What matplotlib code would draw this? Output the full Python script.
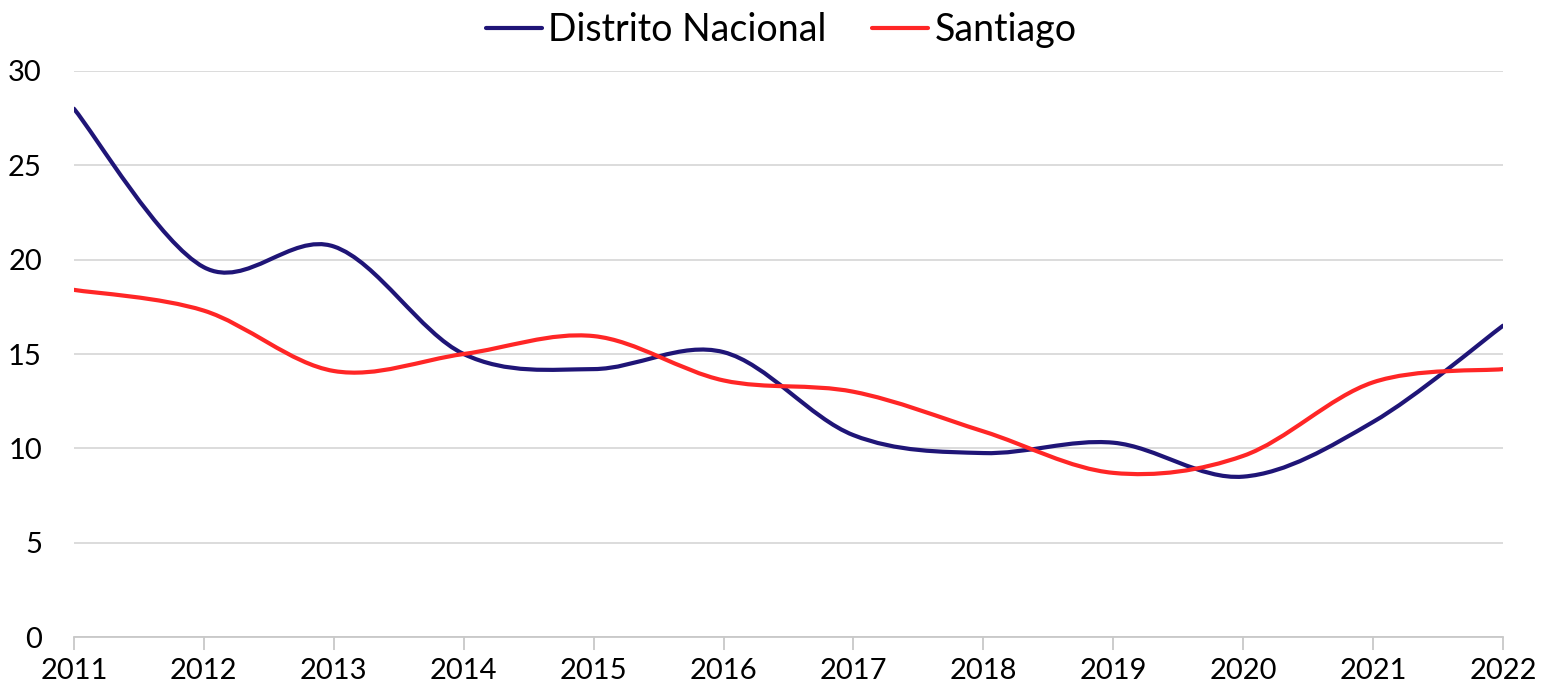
import numpy as np
import matplotlib
matplotlib.use("Agg")
import matplotlib.pyplot as plt
from matplotlib.path import Path
from matplotlib.patches import PathPatch
from matplotlib.lines import Line2D

plt.rcParams['font.family'] = ['Lato', 'DejaVu Sans']

years = [2011, 2012, 2013, 2014, 2015, 2016, 2017, 2018, 2019, 2020, 2021, 2022]
distrito = [28.0, 19.6, 20.7, 15.0, 14.2, 15.1, 10.7, 9.75, 10.3, 8.5, 11.4, 16.5]
santiago = [18.4, 17.3, 14.1, 15.0, 15.95, 13.6, 13.0, 10.9, 8.7, 9.6, 13.5, 14.2]
series_names = ['Distrito Nacional', 'Santiago']
colors = ['#1f1577', '#ff2626']


def smooth_path(x, y):
    # Excel-style smoothed line: cubic Bezier segments (Catmull-Rom, tension 1/6)
    pts = np.column_stack([x, y]).astype(float)
    n = len(pts)
    verts = [pts[0]]
    codes = [Path.MOVETO]
    for i in range(n - 1):
        p0 = pts[max(i - 1, 0)]
        p1 = pts[i]
        p2 = pts[i + 1]
        p3 = pts[min(i + 2, n - 1)]
        c1 = p1 + (p2 - p0) / 6.0
        c2 = p2 - (p3 - p1) / 6.0
        verts += [c1, c2, p2]
        codes += [Path.CURVE4] * 3
    return Path(verts, codes)


fig = plt.figure(figsize=(15.53, 6.94), dpi=100)
ax = fig.add_axes([0.0476, 0.0821, 0.9202, 0.8156])

handles = []
for vals, name, c in zip([distrito, santiago], series_names, colors):
    patch = PathPatch(smooth_path(years, vals), fill=False, edgecolor=c,
                      lw=3.0, capstyle='round', joinstyle='round', zorder=3)
    ax.add_patch(patch)
    handles.append(Line2D([], [], color=c, lw=3.0, solid_capstyle='round', label=name))

ax.set_xlim(2011, 2022)
ax.set_ylim(0, 30)
ax.set_yticks(range(0, 31, 5))
ax.set_xticks(years)
ax.grid(axis='y', color='#d9d9d9', lw=1.3)
ax.set_axisbelow(True)
for s in ['top', 'right', 'left']:
    ax.spines[s].set_visible(False)
ax.spines['bottom'].set_color('#c8c8c8')
ax.spines['bottom'].set_linewidth(1.3)
ax.tick_params(axis='y', length=0, pad=23, labelsize=21)
ax.tick_params(axis='x', length=9, width=1.3, color='#c8c8c8', pad=6, labelsize=21)

fig.legend(handles=handles, loc='center', bbox_to_anchor=(0.503, 0.957), ncol=2,
           frameon=False, fontsize=27, handlelength=1.5, handletextpad=0.17,
           columnspacing=1.2)

fig.savefig('out.png', dpi=100)
